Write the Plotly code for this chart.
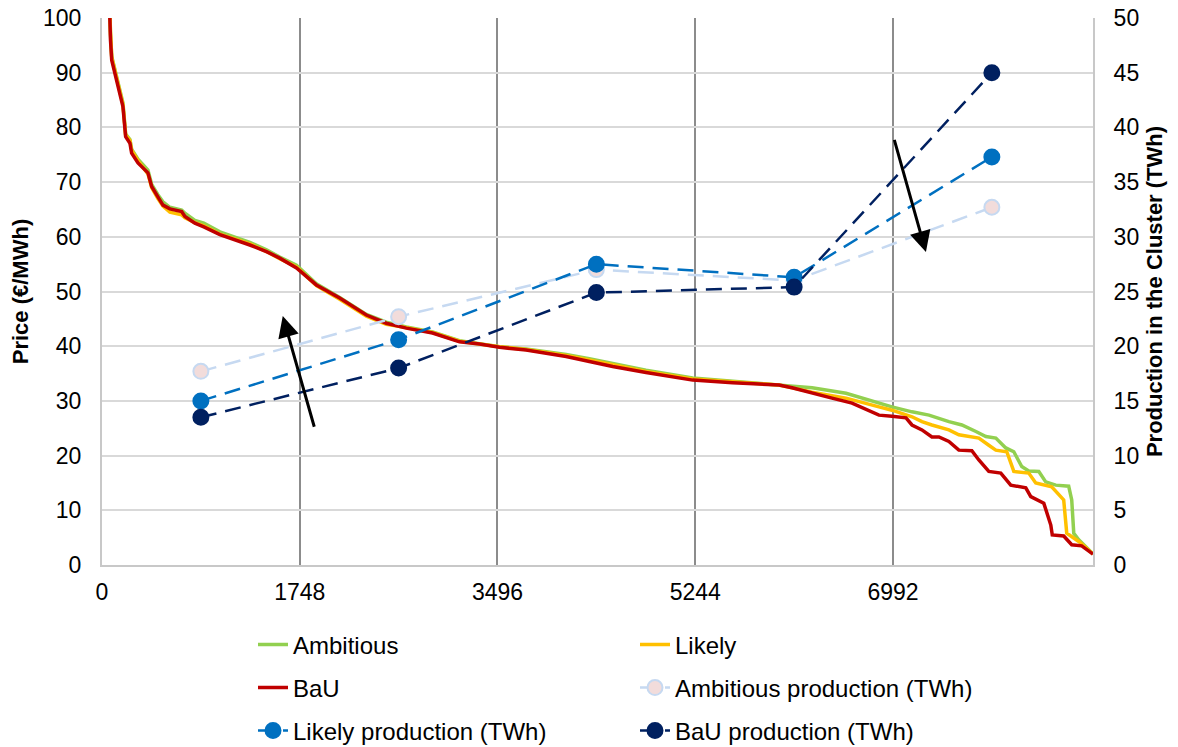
import plotly.graph_objects as go

# Hourly price duration curves (hour rank -> price in EUR/MWh)
bau_hours = [0, 60, 75, 86, 130, 185, 209, 247, 262, 318, 406, 439, 494, 539, 600, 704, 733, 821, 900,
             1042, 1307, 1454, 1571, 1719, 1895, 2101, 2337, 2513, 2690, 2922, 3160, 3337, 3514, 3749,
             3926, 4103, 4308, 4514, 4809, 5221, 5574, 5985, 6100, 6277, 6453, 6630, 6780, 6868, 6983,
             7107, 7160, 7248, 7336, 7398, 7486, 7574, 7689, 7751, 7839, 7945, 8033, 8166, 8210, 8325,
             8387, 8400, 8501, 8572, 8660, 8760]
bau_price = [150, 103, 96, 92.3, 88.7, 83.8, 78.3, 77.1, 75.3, 73.5, 71.7, 69.2, 67.3, 65.8, 65.1, 64.6,
             63.7, 62.5, 61.8, 60.4, 58.5, 57.3, 56.1, 54.3, 51.2, 48.8, 45.7, 44.2, 43.3, 42.4, 40.8,
             40.4, 39.8, 39.3, 38.7, 38.1, 37.2, 36.3, 35.2, 33.8, 33.3, 32.9, 32.4, 31.4, 30.5, 29.6,
             28.3, 27.4, 27.2, 26.9, 25.6, 24.7, 23.4, 23.4, 22.6, 21.0, 20.9, 19.2, 17.1, 16.8, 14.6,
             14.1, 12.5, 11.3, 7.3, 5.5, 5.3, 3.7, 3.5, 2.0]

ambitious_hours = [0, 60, 75, 86, 130, 185, 209, 247, 262, 318, 406, 439, 494, 539, 600, 704, 733, 821,
                   900, 1042, 1307, 1454, 1571, 1719, 1895, 2101, 2337, 2513, 2690, 2922, 3160, 3337,
                   3514, 3749, 3926, 4103, 4308, 4514, 4809, 5221, 5574, 5985, 6277, 6577, 6868, 6983,
                   7160, 7310, 7486, 7601, 7725, 7813, 7901, 7989, 8060, 8130, 8192, 8281, 8342, 8431,
                   8545, 8572, 8590, 8634, 8760]
ambitious_price = [150, 104, 97, 93, 89.5, 84.5, 78.8, 77.8, 76, 74.2, 72.2, 69.6, 67.7, 66.4, 65.4, 64.9,
                   64.3, 63.0, 62.5, 60.9, 59.0, 57.6, 56.3, 54.8, 51.4, 48.9, 45.8, 44.4, 43.5, 42.6,
                   41.0, 40.5, 39.9, 39.5, 39.0, 38.5, 37.7, 36.8, 35.6, 34.2, 33.6, 32.9, 32.4, 31.4,
                   29.6, 28.9, 28.0, 27.4, 26.2, 25.6, 24.4, 23.5, 23.2, 21.4, 20.7, 18.0, 17.2, 17.1,
                   15.2, 14.6, 14.4, 11.9, 5.8, 4.6, 2.0]

likely_hours = [0, 60, 75, 86, 130, 185, 209, 247, 262, 318, 406, 439, 494, 539, 600, 704, 733, 821, 900,
                1042, 1307, 1454, 1571, 1719, 1895, 2101, 2337, 2513, 2690, 2922, 3160, 3337, 3514, 3749,
                3926, 4103, 4308, 4514, 4809, 5221, 5574, 5985, 6277, 6577, 6868, 6983, 7160, 7248, 7336,
                7486, 7574, 7751, 7839, 7901, 7998, 8060, 8192, 8254, 8395, 8457, 8501, 8528, 8572, 8634,
                8760]
likely_price = [150, 105, 97.5, 92.8, 89.2, 84.2, 78.6, 77.6, 75.8, 73.9, 71.5, 69.0, 67.0, 65.6, 64.5,
                64.0, 63.5, 62.6, 62.0, 60.5, 58.7, 57.3, 56.0, 54.5, 51.1, 48.6, 45.5, 44.0, 43.4, 42.5,
                40.9, 40.4, 39.9, 39.4, 38.9, 38.3, 37.5, 36.6, 35.4, 34.0, 33.5, 32.9, 31.6, 30.5, 28.9,
                28.3, 27.1, 26.2, 25.6, 24.7, 23.8, 23.2, 21.9, 21.0, 20.7, 17.1, 16.8, 15.0, 14.3, 12.8,
                11.9, 5.8, 5.2, 4.3, 2.0]

# Production in the cluster per block of 1748 hours (TWh), plotted at block midpoints
block_mid = [874, 2622, 4370, 6118, 7866]
ambitious_prod = [17.7, 22.7, 27.0, 26.0, 32.7]
likely_prod = [15.0, 20.6, 27.5, 26.3, 37.3]
bau_prod = [13.5, 18.0, 24.9, 25.4, 45.0]

x_ticks = [0, 1748, 3496, 5244, 6992]

FONT = "Liberation Sans, Arial, sans-serif"
TICK_SIZE = 23
LEGEND_SIZE = 24

fig = go.Figure()

price_series = [
    ("Ambitious", ambitious_hours, ambitious_price, "#92D050", "legend"),
    ("Likely", likely_hours, likely_price, "#FFC000", "legend"),
    ("BaU", bau_hours, bau_price, "#C00000", "legend2"),
]
for name, hx, py, col, leg in price_series:
    fig.add_trace(go.Scatter(
        x=hx, y=py, name=name, mode="lines",
        line=dict(color=col, width=3.5),
        legend=leg, yaxis="y",
    ))

prod_series = [
    ("Ambitious production (TWh)", ambitious_prod, "#C6D9F1", "#F2DCDB", "legend2"),
    ("Likely production (TWh)", likely_prod, "#0070C0", "#0070C0", "legend3"),
    ("BaU production (TWh)", bau_prod, "#002060", "#002060", "legend3"),
]
for name, vals, col, fill, leg in prod_series:
    fig.add_trace(go.Scatter(
        x=block_mid, y=vals, name=name, mode="lines+markers",
        line=dict(color=col, width=2.5, dash="16px,9px"),
        marker=dict(size=15, color=fill, line=dict(color=col, width=2)),
        legend=leg, yaxis="y2",
    ))

# Arrows showing the shift between scenarios
fig.add_annotation(x=1598, y=45.5, ax=1880, ay=25.0, xref="x", yref="y", axref="x", ayref="y",
                   showarrow=True, arrowhead=2, arrowsize=1.4, arrowwidth=3, arrowcolor="black", text="")
fig.add_annotation(x=7283, y=57.2, ax=7000, ay=78.0, xref="x", yref="y", axref="x", ayref="y",
                   showarrow=True, arrowhead=2, arrowsize=1.4, arrowwidth=3, arrowcolor="black", text="")

legend_common = dict(orientation="h", xref="container", yref="container", xanchor="left",
                     yanchor="middle", entrywidth=337,
                     font=dict(family=FONT, size=LEGEND_SIZE, color="black"),
                     bgcolor="rgba(0,0,0,0)", traceorder="normal")

fig.update_layout(
    width=1178, height=747,
    margin=dict(l=102, r=85, t=18, b=182, autoexpand=False),
    plot_bgcolor="white", paper_bgcolor="white",
    font=dict(family=FONT, size=TICK_SIZE, color="black"),
    showlegend=True,
    legend=dict(x=253 / 1178, y=1 - 645 / 747, **legend_common),
    legend2=dict(x=253 / 1178, y=1 - 688 / 747, **legend_common),
    legend3=dict(x=253 / 1178, y=1 - 731 / 747, **legend_common),
    xaxis=dict(range=[0, 8760], tickvals=x_ticks, ticktext=[str(v) for v in x_ticks],
               showgrid=True, gridcolor="#8C8C8C", gridwidth=1.5, zeroline=False,
               showline=True, linecolor="#C8C8C8", linewidth=2, ticks="", automargin=False,
               ticklabelstandoff=5, tickfont=dict(size=TICK_SIZE)),
    yaxis=dict(range=[0, 100], dtick=10, showgrid=True, gridcolor="#D9D9D9", gridwidth=2,
               zeroline=False, showline=True, linecolor="#C8C8C8", linewidth=2, ticks="",
               automargin=False, ticklabelstandoff=14, tickfont=dict(size=TICK_SIZE),
               title=dict(text="<b>Price (€/MWh)</b>", font=dict(size=22), standoff=8)),
    yaxis2=dict(range=[0, 50], dtick=5, overlaying="y", side="right", showgrid=False,
                zeroline=False, showline=True, linecolor="#C8C8C8", linewidth=2, ticks="",
                automargin=False, ticklabelstandoff=14, tickfont=dict(size=TICK_SIZE),
                title=dict(text="<b>Production in the Cluster (TWh)</b>", font=dict(size=22),
                           standoff=8)),
)

fig.write_html("out.html")
